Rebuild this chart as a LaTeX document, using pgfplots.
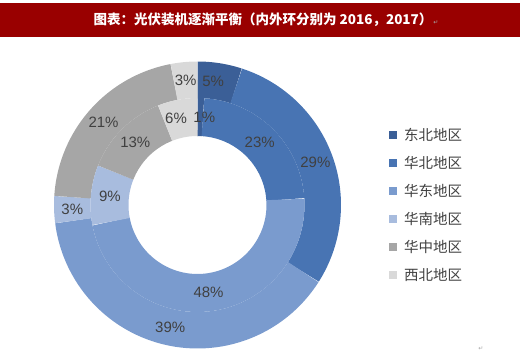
\documentclass[border=0pt]{standalone}
\usepackage{pgfplots}
\pgfplotsset{compat=1.18}
\usepackage{fontspec}
\setmainfont{Liberation Sans}
\newfontfamily\cjk{Noto Sans CJK SC}
\newfontfamily\sym{DejaVu Sans}
\definecolor{titlered}{HTML}{990000}
\definecolor{c1}{HTML}{3B5F97}
\definecolor{c2}{HTML}{4874B3}
\definecolor{c3}{HTML}{7A9BCE}
\definecolor{c4}{HTML}{A8BCDE}
\definecolor{c5}{HTML}{A6A6A6}
\definecolor{c6}{HTML}{D9D9D9}
\definecolor{lab}{HTML}{404040}
% ring segment: start%, end%, mid radius, ring width, colour
\newcommand\ring[5]{%
  \addplot[domain=#1:#2, samples=60, line width=#4pt, color=#5,
    line cap=butt, line join=round, forget plot]
    ({197.5+#3*sin(3.6*x)},{205-#3*cos(3.6*x)});}
\newcommand\plab[4]{% mid %, radius, text, dx
  \node[font=\fontsize{15}{15}\selectfont, text=lab]
    at ({197.5+#2*sin(3.6*#1)+#4},{205-#2*cos(3.6*#1)}) {#3};}
\newcommand\legitem[3]{% colour, y, text
  \fill[#1] (389,#2-4) rectangle (397,#2+4);
  \node[anchor=west, inner sep=0pt, text=lab, font=\cjk\fontsize{14.5}{14.5}\selectfont]
    at (404,#2) {#3};}
\begin{document}
\begin{tikzpicture}
\begin{axis}[width=520pt,height=354pt,scale only axis,
  xmin=0,xmax=520,ymin=0,ymax=354,y dir=reverse,hide axis,clip=false]
\path (0,0) rectangle (520,354);
% title bar
\fill[titlered] (0,2.5) rectangle (520,37);
\node[text=white, font=\cjk\bfseries\fontsize{13.5}{13.5}\selectfont]
  at (263,19.5) {图表：光伏装机逐渐平衡（内外环分别为 2016，2017）};
\node[text=gray!70, font=\sym\fontsize{6}{6}\selectfont] at (436,23) {↵};
\node[text=gray!70, font=\sym\fontsize{6}{6}\selectfont] at (481,349) {↵};
% outer ring (2017): 5, 29, 39, 3, 21, 3
\ring{0}{5}{125.25}{36.5}{c1}
\ring{5}{34}{125.25}{36.5}{c2}
\ring{34}{73}{125.25}{36.5}{c3}
\ring{73}{76}{125.25}{36.5}{c4}
\ring{76}{97}{125.25}{36.5}{c5}
\ring{97}{100}{125.25}{36.5}{c6}
% inner ring (2016): 1, 23, 48, 9, 13, 6
\ring{0}{1}{88}{38}{c1}
\ring{1}{24}{88}{38}{c2}
\ring{24}{72}{88}{38}{c3}
\ring{72}{81}{88}{38}{c4}
\ring{81}{94}{88}{38}{c5}
\ring{94}{100}{88}{38}{c6}
% labels
\plab{2.5}{125.25}{5\%}{-4}
\plab{19.5}{125.25}{29\%}{0}
\plab{53.5}{125.25}{39\%}{0}
\plab{74.5}{125.25}{3\%}{0}
\plab{86.5}{125.25}{21\%}{0}
\plab{98.5}{125.25}{3\%}{0}
\plab{0.5}{88}{1\%}{4}
\plab{12.5}{88}{23\%}{0}
\plab{48}{88}{48\%}{0}
\plab{76.5}{88}{9\%}{0}
\plab{87.5}{88}{13\%}{0}
\plab{97}{88}{6\%}{-5}
% legend
\legitem{c1}{135}{东北地区}
\legitem{c2}{163}{华北地区}
\legitem{c3}{191}{华东地区}
\legitem{c4}{219}{华南地区}
\legitem{c5}{247}{华中地区}
\legitem{c6}{275}{西北地区}
\end{axis}
\end{tikzpicture}
\end{document}
